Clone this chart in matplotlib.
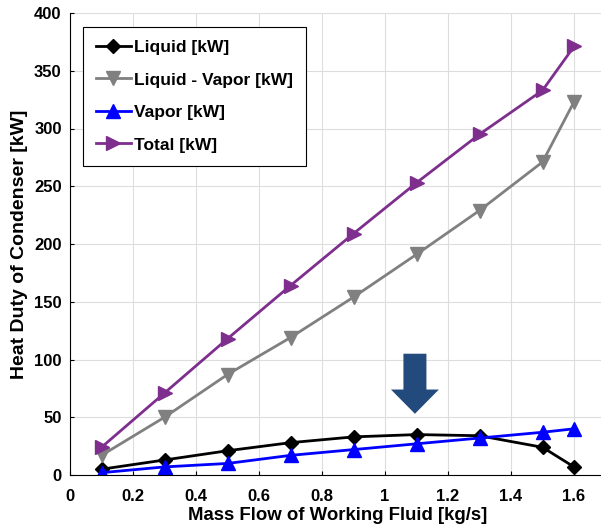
import matplotlib
matplotlib.use("Agg")
import matplotlib.pyplot as plt
from matplotlib.patches import FancyArrow

plt.rcParams['font.family'] = ['Liberation Sans', 'DejaVu Sans']
plt.rcParams['font.weight'] = 'bold'

# data
mass_flow = [0.1, 0.3, 0.5, 0.7, 0.9, 1.1, 1.3, 1.5, 1.6]
liquid = [5, 13, 21, 28, 33, 35, 34, 24, 7]
liquid_vapor = [17, 50, 87, 119, 154, 191, 229, 271, 323]
vapor = [2, 7, 10, 17, 22, 27, 32, 37, 40]
total = [24, 71, 118, 164, 209, 253, 295, 333, 371]

x_ticks = [0, 0.2, 0.4, 0.6, 0.8, 1, 1.2, 1.4, 1.6]
x_ticklabels = ['0', '0.2', '0.4', '0.6', '0.8', '1', '1.2', '1.4', '1.6']
y_ticks = [0, 50, 100, 150, 200, 250, 300, 350, 400]

fig = plt.figure(figsize=(6.01, 5.30), dpi=100)
ax = fig.add_axes([70 / 601, 1 - 475 / 530, 535.5 / 601, 462 / 530])

ax.plot(mass_flow, liquid, color='black', lw=2, marker='D', ms=7.5, label='Liquid [kW]')
ax.plot(mass_flow, liquid_vapor, color='#808080', lw=2, marker='v', ms=10, label='Liquid - Vapor [kW]')
ax.plot(mass_flow, vapor, color='#0000FF', lw=2, marker='^', ms=10, label='Vapor [kW]')
ax.plot(mass_flow, total, color='#7E2F8E', lw=2, marker='>', ms=10, label='Total [kW]')

# highlight arrow
arrow_x = 1.095
ax.add_patch(FancyArrow(arrow_x, 105, 0, -52, width=0.073, head_width=0.152,
                        head_length=21, length_includes_head=True,
                        color='#234A7C', lw=0, zorder=5))

ax.set_xlim(0, 1.7)
ax.set_ylim(0, 400)
ax.set_xticks(x_ticks)
ax.set_xticklabels(x_ticklabels)
ax.set_yticks(y_ticks)
ax.tick_params(direction='in', length=3, labelsize=12, width=0.8)
ax.tick_params(axis='x', pad=10)
ax.tick_params(axis='y', pad=6)
ax.grid(True, color='#DDDDDD', lw=0.8)
ax.set_axisbelow(True)
ax.spines['top'].set_visible(False)
ax.spines['right'].set_visible(False)

ax.set_xlabel('Mass Flow of Working Fluid [kg/s]', fontsize=13.4, fontweight='bold', labelpad=2)
ax.set_ylabel('Heat Duty of Condenser [kW]', fontsize=14, fontweight='bold', labelpad=4)

leg = ax.legend(loc='upper left', bbox_to_anchor=(0.024, 0.97), borderaxespad=0,
                fontsize=12.5, handlelength=2.0, handletextpad=0.2, borderpad=0.75,
                labelspacing=1.0, fancybox=False, framealpha=1,
                edgecolor='black')
leg.get_frame().set_linewidth(0.8)

fig.savefig('out.png', dpi=100)
